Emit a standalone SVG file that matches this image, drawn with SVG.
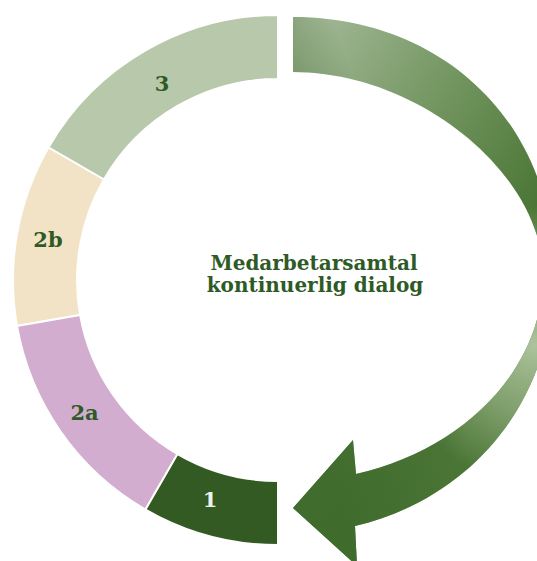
<svg xmlns="http://www.w3.org/2000/svg" width="537" height="561" viewBox="0 0 537 561">
<style>
.seg{stroke:#ffffff;stroke-width:2;stroke-linejoin:miter}
.lbl{font-family:"DejaVu Serif","Liberation Serif",serif;font-weight:bold;font-size:21px;text-anchor:middle;fill:#2e5a26}
.title{font-family:"DejaVu Serif","Liberation Serif",serif;font-weight:bold;font-size:20px;text-anchor:middle;fill:#2e5a26}
</style>
<defs>
<linearGradient id="ag" gradientUnits="userSpaceOnUse" x1="295" y1="40" x2="540" y2="200">
<stop offset="0" stop-color="#a4b999"/>
<stop offset="0.5" stop-color="#759762"/>
<stop offset="1" stop-color="#4b7636"/>
</linearGradient>
<radialGradient id="hl" gradientUnits="userSpaceOnUse" cx="535" cy="345" r="140">
<stop offset="0" stop-color="#b2c7a2" stop-opacity="0.95"/>
<stop offset="0.5" stop-color="#a2bb90" stop-opacity="0.6"/>
<stop offset="1" stop-color="#a2bb90" stop-opacity="0"/>
</radialGradient>
<linearGradient id="dk" gradientUnits="userSpaceOnUse" x1="470" y1="460" x2="340" y2="500">
<stop offset="0" stop-color="#3e6a2c" stop-opacity="0"/>
<stop offset="1" stop-color="#3e6a2c" stop-opacity="0.9"/>
</linearGradient>
<path id="arrowShape" d="M293,17 C444,17 554,124 554,272 C554,399.4 473.6,498 355,526 L357,566 L293,508 L353,440 L356,474 C463.3,449.9 543,369.7 543,275 C543,173.5 418,72 293,72 Z"/>
</defs>
<rect x="0" y="0" width="537" height="561" fill="#ffffff"/>
<g id="connectors">
<use href="#arrowShape" fill="url(#ag)"/>
<use href="#arrowShape" fill="url(#hl)"/>
<use href="#arrowShape" fill="url(#dk)"/>
</g>
<g id="node-3">
<path class="seg" fill="#b7c8ab" d="M48.5,147.5 A265,265 0 0 1 278,15 L278,79 A201,201 0 0 0 103.9,179.5 Z"/>
<text class="lbl" x="162" y="91">3</text>
</g>
<g id="node-2b">
<path class="seg" fill="#f2e3c6" d="M17,326 A265,265 0 0 1 48.5,147.5 L103.9,179.5 A201,201 0 0 0 80.1,314.9 Z"/>
<text class="lbl" x="48" y="247">2b</text>
</g>
<g id="node-2a">
<path class="seg" fill="#d3adcf" d="M145.5,509.5 A265,265 0 0 1 17,326 L80.1,314.9 A201,201 0 0 0 177.5,454.1 Z"/>
<text class="lbl" x="84.5" y="420">2a</text>
</g>
<g id="node-1">
<path class="seg" fill="#335a22" d="M278,545 A265,265 0 0 1 145.5,509.5 L177.5,454.1 A201,201 0 0 0 278,481 Z"/>
<text class="lbl" x="210" y="507" style="fill:#eef2ea">1</text>
</g>
<g id="center-title">
<text class="title" x="314" y="270">Medarbetarsamtal</text>
<text class="title" x="315" y="292">kontinuerlig dialog</text>
</g>
</svg>
